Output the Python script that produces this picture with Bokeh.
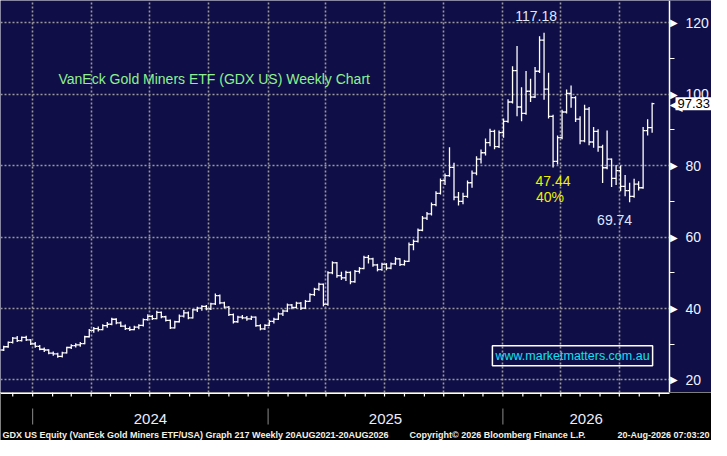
import pandas as pd
from bokeh.plotting import figure
from bokeh.layouts import column
from bokeh.models import (Range1d, ColumnDataSource, FixedTicker, Grid, Label,
                          LinearAxis, BoxAnnotation)
from bokeh.embed import file_html
from bokeh.resources import INLINE

# weekly OHLC for GDX US
opens = [28.0, 28.4, 29.3, 30.5, 31.7, 31.0, 31.9, 31.2, 30.1, 29.4,
         28.6, 28.4, 27.5, 27.3, 26.6, 27.6, 29.1, 29.6, 29.8, 30.2,
         32.1, 33.9, 34.4, 34.1, 35.2, 35.6, 37.0, 36.0, 35.1, 34.4,
         34.1, 34.8, 35.3, 36.9, 37.8, 37.2, 38.9, 37.7, 36.7, 34.6,
         36.3, 37.9, 38.8, 37.4, 39.6, 40.1, 40.6, 39.9, 41.3, 43.6,
         41.6, 40.4, 38.3, 36.3, 37.6, 37.4, 37.1, 37.6, 35.2, 34.3,
         35.3, 36.4, 37.0, 38.5, 39.3, 41.0, 40.3, 41.5, 40.1, 42.0,
         43.9, 45.4, 46.8, 41.2, 50.0, 52.8, 49.2, 48.6, 50.1, 47.5,
         50.4, 51.2, 54.3, 53.9, 52.2, 50.9, 52.4, 51.3, 52.5, 53.9,
         52.3, 53.2, 57.9, 58.8, 61.9, 65.3, 66.5, 69.1, 72.2, 75.8,
         77.2, 79.5, 71.2, 70.0, 71.4, 75.2, 77.9, 81.8, 83.6, 86.4,
         89.6, 85.3, 89.2, 92.4, 97.8, 106.6, 96.4, 94.6, 100.8, 99.2,
         106.4, 115.1, 101.4, 93.8, 81.2, 87.8, 95.0, 100.2, 99.0, 93.0,
         86.9, 95.8, 86.6, 89.6, 85.2, 79.4, 81.8, 76.4, 78.6, 74.2,
         73.0, 71.4, 74.8, 73.8, 89.8, 90.6]
highs = [28.8, 29.6, 30.8, 32.0, 32.3, 32.2, 32.4, 31.4, 30.6, 29.8,
         29.1, 28.6, 28.0, 27.6, 27.9, 29.3, 30.0, 30.3, 30.6, 32.4,
         34.3, 34.8, 35.0, 35.6, 36.2, 37.4, 37.3, 36.4, 35.5, 35.0,
         35.2, 35.6, 37.2, 38.4, 38.2, 39.4, 39.2, 38.0, 36.9, 36.6,
         38.3, 39.6, 39.2, 39.9, 40.5, 40.9, 41.0, 41.6, 44.2, 43.9,
         41.9, 40.7, 38.6, 38.0, 38.2, 37.9, 38.0, 37.8, 35.6, 35.6,
         36.8, 37.4, 38.9, 39.7, 41.4, 41.3, 41.9, 41.8, 42.4, 44.3,
         45.8, 47.2, 47.0, 50.4, 53.2, 53.0, 50.3, 50.6, 50.4, 50.8,
         51.6, 54.8, 55.0, 54.2, 52.5, 52.8, 52.7, 52.9, 54.4, 54.1,
         53.6, 58.5, 59.3, 62.4, 65.9, 67.0, 69.7, 72.8, 76.4, 77.8,
         85.1, 80.8, 72.6, 72.4, 75.8, 78.6, 82.6, 84.5, 87.6, 90.3,
         90.0, 89.8, 93.2, 98.6, 107.8, 113.5, 101.9, 106.5, 104.3, 107.6,
         116.2, 117.18, 106.0, 94.2, 88.4, 95.6, 101.3, 102.4, 99.4, 93.8,
         97.0, 96.4, 90.8, 90.2, 85.8, 89.8, 82.0, 80.2, 80.0, 77.4,
         75.2, 76.3, 75.6, 90.8, 93.0, 97.6]
lows = [27.6, 28.1, 29.0, 30.2, 30.6, 30.8, 30.9, 29.8, 29.0, 28.3,
        27.8, 27.2, 26.8, 26.2, 26.3, 27.4, 28.7, 29.1, 29.3, 30.0,
        31.9, 33.2, 33.6, 33.9, 34.6, 35.3, 35.6, 34.8, 34.0, 33.7,
        33.9, 34.2, 35.0, 36.6, 36.8, 37.0, 37.3, 36.4, 34.3, 34.4,
        36.1, 37.5, 37.0, 37.2, 39.0, 39.4, 39.5, 39.6, 41.0, 41.2,
        40.0, 37.9, 35.8, 36.0, 37.0, 36.6, 36.8, 34.9, 33.9, 34.0,
        35.1, 35.8, 36.8, 37.9, 39.0, 39.8, 40.0, 39.6, 39.9, 41.8,
        43.5, 45.0, 40.6, 40.8, 49.6, 48.6, 48.0, 47.7, 46.8, 47.2,
        49.8, 51.0, 52.6, 51.7, 50.4, 50.6, 50.7, 51.0, 52.2, 51.9,
        52.0, 53.0, 56.3, 58.5, 61.6, 64.8, 66.0, 68.6, 71.9, 74.6,
        76.9, 70.3, 68.8, 69.2, 71.0, 73.8, 77.3, 80.6, 82.8, 85.4,
        84.6, 84.9, 87.8, 92.0, 97.4, 93.8, 92.4, 94.2, 97.8, 98.9,
        105.9, 98.4, 93.2, 79.5, 80.3, 87.4, 94.6, 96.2, 92.2, 86.0,
        86.5, 85.7, 85.0, 83.9, 75.1, 79.0, 74.0, 74.6, 72.8, 71.4,
        69.74, 71.0, 73.0, 73.5, 88.4, 89.2]
closes = [28.4, 29.3, 30.5, 31.7, 31.0, 31.9, 31.2, 30.1, 29.4, 28.6,
          28.4, 27.5, 27.3, 26.6, 27.6, 29.1, 29.6, 29.8, 30.2, 32.1,
          33.9, 34.4, 34.1, 35.2, 35.6, 37.0, 36.0, 35.1, 34.4, 34.1,
          34.8, 35.3, 36.9, 37.8, 37.2, 38.9, 37.7, 36.7, 34.6, 36.3,
          37.9, 38.8, 37.4, 39.6, 40.1, 40.6, 39.9, 41.3, 43.6, 41.6,
          40.4, 38.3, 36.3, 37.6, 37.4, 37.1, 37.6, 35.2, 34.3, 35.3,
          36.4, 37.0, 38.5, 39.3, 41.0, 40.3, 41.5, 40.1, 42.0, 43.9,
          45.4, 46.8, 41.2, 50.0, 52.8, 49.2, 48.6, 50.1, 47.5, 50.4,
          51.2, 54.3, 53.9, 52.2, 50.9, 52.4, 51.3, 52.5, 53.9, 52.3,
          53.2, 57.9, 58.8, 61.9, 65.3, 66.5, 69.1, 72.2, 75.8, 77.2,
          79.5, 71.2, 70.0, 71.4, 75.2, 77.9, 81.8, 83.6, 86.4, 89.6,
          85.3, 89.2, 92.4, 97.8, 106.6, 96.4, 94.6, 100.8, 99.2, 106.4,
          115.1, 101.4, 93.8, 81.2, 87.8, 95.0, 100.2, 99.0, 93.0, 86.9,
          95.8, 86.6, 89.6, 85.2, 79.4, 81.8, 76.4, 78.6, 74.2, 73.0,
          71.4, 74.8, 73.8, 89.8, 90.6, 97.33]
weeks = pd.date_range(end="2026-08-21", periods=len(closes), freq="W-FRI")

y_ticks = [20, 40, 60, 80, 100, 120]
y_minor = [30, 50, 70, 90, 110]
year_names = ["2024", "2025", "2026"]
title_text = "VanEck Gold Miners ETF (GDX US) Weekly Chart"
site_text = "www.marketmatters.com.au"
footer_left = "GDX US Equity (VanEck Gold Miners ETF/USA) Graph 217 Weekly 20AUG2021-20AUG2026"
footer_mid = "Copyright\u00a9 2026 Bloomberg Finance L.P."
footer_right = "20-Aug-2026 07:03:20"

NAVY = "#0f0e47"
FONT = "Liberation Sans"
W, RIGHT = 711, 42

# time span of the plotting area (up to the price axis); the canvas carries on
# past it so the axis labels sit inside the frame
x_start = pd.Timestamp("2023-11-12")
x_end = pd.Timestamp("2026-09-17")
x_end_ms = x_end.value // 10**6
xr = Range1d(x_start, x_start + (x_end - x_start) * W / (W - RIGHT))

half = pd.Timedelta(days=3.5)
src = ColumnDataSource(dict(x=weeks, xl=weeks - half, xr=weeks + half,
                            o=opens, h=highs, l=lows, c=closes))

p = figure(width=W, height=392, x_range=xr, y_range=Range1d(16.5, 126.2),
           y_axis_location=None, x_axis_location=None,
           output_backend="svg", toolbar_location=None,
           background_fill_color=NAVY, border_fill_color=NAVY, min_border=0)
p.outline_line_color = None
p.xgrid.visible = False
p.ygrid.visible = False

grid_style = dict(grid_line_color="#9a9a9a", grid_line_dash="2 2", grid_line_width=1.6)
quarters = pd.date_range("2023-10-01", "2026-07-01", freq="QS")
p.add_layout(Grid(dimension=0, ticker=FixedTicker(ticks=[t.value // 10**6 for t in quarters]), **grid_style))

yax = LinearAxis(fixed_location=x_end_ms, ticker=FixedTicker(ticks=y_ticks, minor_ticks=y_minor),
                 axis_line_color="white", axis_line_width=1.5,
                 major_tick_out=0, major_tick_in=0,
                 minor_tick_out=5, minor_tick_in=0,
                 minor_tick_line_color="white", minor_tick_line_width=1.2,
                 major_label_standoff=11, major_label_text_color="#eef2ff",
                 major_label_text_font=FONT, major_label_text_font_size="14px")
p.add_layout(yax, "right")
p.add_layout(Grid(dimension=1, ticker=yax.ticker, **grid_style))
# keep the dotted lines from running past the price axis
p.add_layout(BoxAnnotation(left=x_end_ms, fill_color=NAVY, fill_alpha=1, line_alpha=0, level="underlay"))

for t in y_ticks:
    p.add_layout(Label(x=x_end_ms, y=t, x_offset=0.5, text="\u25b6",
                       text_color="white", text_font="DejaVu Sans", text_font_size="10px",
                       text_baseline="middle", text_align="left"))

# OHLC bars
p.segment(x0="x", y0="l", x1="x", y1="h", source=src, line_color="white", line_width=1.3)
p.segment(x0="xl", y0="o", x1="x", y1="o", source=src, line_color="white", line_width=1.3)
p.segment(x0="x", y0="c", x1="xr", y1="c", source=src, line_color="white", line_width=1.3)

# peak / trough annotations
peak_i = highs.index(max(highs))
trough_i = peak_i + lows[peak_i:].index(min(lows[peak_i:]))
peak, trough = highs[peak_i], lows[trough_i]
drop = peak - trough

p.add_layout(Label(x=weeks[peak_i], y=peak, x_offset=-8, y_offset=17, text=f"{peak:.2f}",
                   text_color="#dfe6ff", text_font=FONT, text_font_size="14px",
                   text_align="center", text_baseline="middle"))
p.add_layout(Label(x=weeks[peak_i], y=trough, x_offset=9, y_offset=21, text=f"{drop:.2f}",
                   text_color="#f0f000", text_font=FONT, text_font_size="14px",
                   text_align="center", text_baseline="middle"))
p.add_layout(Label(x=weeks[peak_i], y=trough, x_offset=6, y_offset=5, text=f"{drop / peak:.0%}",
                   text_color="#f0f000", text_font=FONT, text_font_size="14px",
                   text_align="center", text_baseline="middle"))
p.add_layout(Label(x=weeks[trough_i], y=trough, x_offset=-15, y_offset=-18, text=f"{trough:.2f}",
                   text_color="#dfe6ff", text_font=FONT, text_font_size="14px",
                   text_align="center", text_baseline="middle"))

p.add_layout(Label(x=58, y=104.3, x_units="screen", text=title_text,
                   text_color="#8ff08f", text_font=FONT, text_font_size="14px",
                   text_baseline="middle"))
p.add_layout(Label(x=572, y=26.8, x_units="screen", text=site_text,
                   text_color="#12e0f0", text_font=FONT, text_font_size="12.5px",
                   text_align="center", text_baseline="middle",
                   border_line_color="white", border_line_width=1.5, padding=3))

# last price tag
p.add_layout(Label(x=x_end_ms, y=closes[-1], x_offset=0, text="\u25c0",
                   text_color="white", text_font="DejaVu Sans", text_font_size="17px",
                   text_baseline="middle", text_align="left"))
p.add_layout(Label(x=x_end_ms, y=closes[-1], x_offset=6, text=f"{closes[-1]:.2f}",
                   text_color="black", text_font=FONT, text_font_size="13px",
                   text_baseline="middle", background_fill_color="white", padding=2))

# bottom time strip
q = figure(width=W, height=48, x_range=xr, y_range=Range1d(0, 48),
           x_axis_location=None, y_axis_location=None,
           output_backend="svg", toolbar_location=None,
           background_fill_color="black", border_fill_color="black", min_border=0)
q.outline_line_color = None
q.xgrid.visible = False
q.ygrid.visible = False

months = pd.date_range("2023-11-01", "2026-09-01", freq="MS")
q.segment(x0=[x_start], y0=[47.3], x1=[x_end], y1=[47.3], line_color="white", line_width=1.5)
q.segment(x0=months, y0=48, x1=months, y1=44, line_color="white", line_width=1.2)

year_starts = [pd.Timestamp(f"{y}-01-01") for y in year_names]
year_ends = year_starts[1:] + [x_end]
year_mids = [a + (b - a) / 2 for a, b in zip(year_starts, year_ends)]
q.segment(x0=year_starts, y0=16, x1=year_starts, y1=32, line_color="#8a8a8a", line_width=1)
q.text(x=year_mids, y=[22] * 3, text=year_names, text_color="#ececff",
       text_font_size="15px", text_align="center", text_baseline="middle")

for xpos, txt, align in [(2, footer_left, "left"), (409, footer_mid, "left"), (W - 2, footer_right, "right")]:
    q.add_layout(Label(x=xpos, y=1, x_units="screen", text=txt, text_color="#f4f0e4",
                       text_font=FONT, text_font_size="9px", text_font_style="bold",
                       text_align=align, text_baseline="bottom"))

layout = column(p, q)
open("out.html", "w").write(file_html(layout, INLINE))
